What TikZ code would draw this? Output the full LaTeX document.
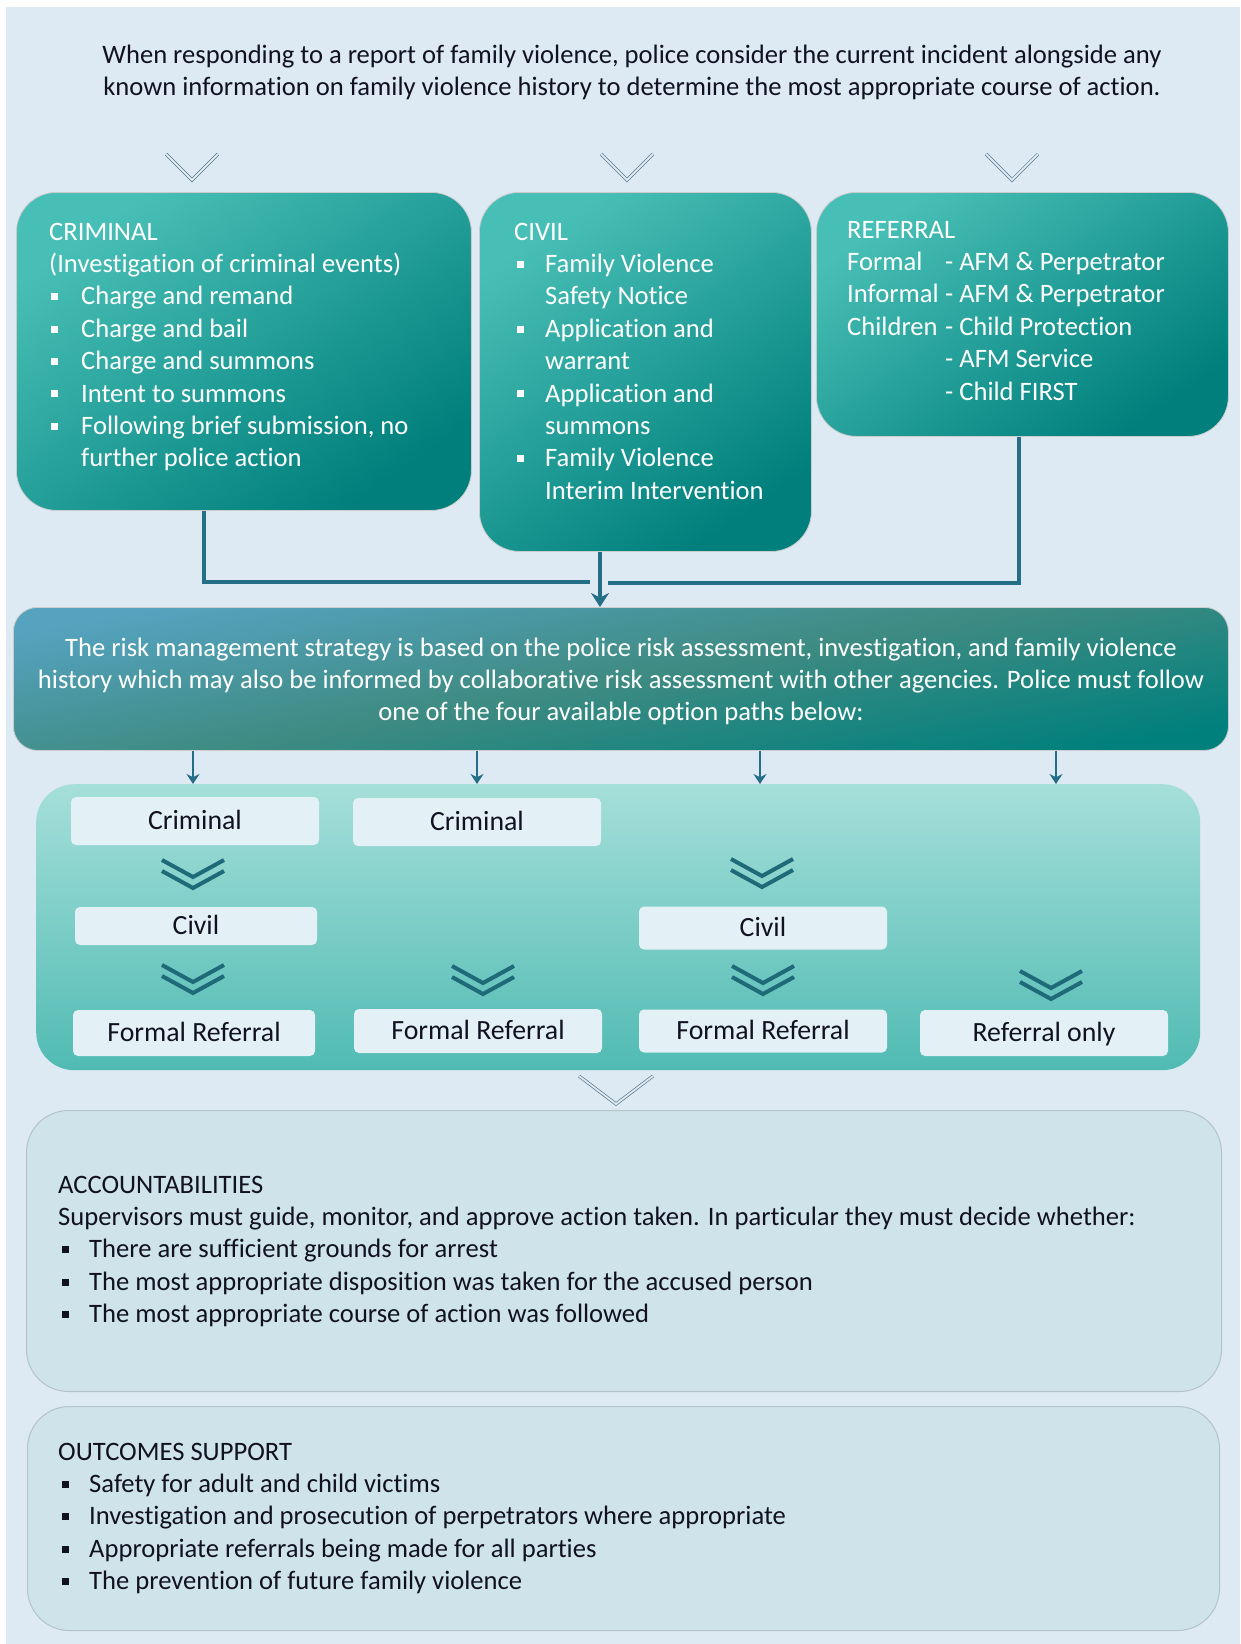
\documentclass[tikz,border=0pt]{standalone}
\usepackage{fontspec}
\setmainfont{Carlito}[Ligatures=NoCommon]
\usetikzlibrary{arrows.meta}
\definecolor{bgblue}{HTML}{DDEAF4}
\definecolor{tealL}{HTML}{48BFB6}
\definecolor{tealD}{HTML}{007F7C}
\definecolor{riskL}{HTML}{55A3BF}
\definecolor{riskM}{HTML}{3E8B82}
\definecolor{riskD}{HTML}{00807D}
\definecolor{optL}{HTML}{A6DFDA}
\definecolor{optD}{HTML}{50BBB3}
\definecolor{optfill}{HTML}{E3F1F6}
\definecolor{linkcol}{HTML}{256E87}
\definecolor{chevcol}{HTML}{1F6A78}
\definecolor{greych}{HTML}{5F7888}
\definecolor{lowfill}{HTML}{CFE4EA}
\definecolor{lowedge}{HTML}{B4C2CA}
\definecolor{inkcol}{HTML}{111122}
\newcommand{\sqbul}{\rule[0.17em]{0.27em}{0.27em}}

\begin{document}
\begin{tikzpicture}[x=1pt,y=-1pt,
  txt/.style={inner sep=0pt, font=\fontsize{26.6}{32.4}\selectfont},
  wtxt/.style={txt, text=white},
  dtxt/.style={txt, text=inkcol},
  tealbox/.style={draw=gray!40, line width=0.8pt, rounded corners=40pt, top color=tealL, bottom color=tealD, shading angle=35, anchor=north west, inner sep=0pt},
  riskbox/.style={draw=gray!40, line width=0.8pt, rounded corners=24pt, top color=riskL, bottom color=riskD, middle color=riskM, shading angle=10, anchor=north west, inner sep=0pt},
  optarea/.style={rounded corners=38pt, top color=optL, bottom color=optD, anchor=north west, inner sep=0pt},
  optbox/.style={fill=optfill, rounded corners=5pt, minimum width=248pt, text height=16pt, text depth=0pt, font=\fontsize{27.8}{30}\selectfont, text=inkcol},
  lowbox/.style={fill=lowfill, draw=lowedge, line width=1pt, rounded corners=42pt, anchor=north west, inner sep=0pt},
  link/.style={draw=linkcol, line width=4pt},
  thinarr/.style={draw=linkcol, line width=2pt, -{Stealth[length=10pt,width=13pt]}},
  dchev/.style={draw=chevcol, line width=4pt},
  gchev/.style={draw=greych, line width=0.7pt, double=bgblue, double distance=1.8pt}
]
\useasboundingbox (0,0) rectangle (1240,1644);
\fill[white] (0,0) rectangle (1240,1644);
\fill[bgblue] (6,7) rectangle (1240,1644);

% intro
\node[dtxt, anchor=base] (intro) at (632,63) {\begin{tabular}[t]{@{}c@{}}
When responding to a report of family violence, police consider the current incident alongside any\\
known information on family violence history to determine the most appropriate course of action.
\end{tabular}};

\foreach \cx in {192,627,1012}
  \draw[gchev] (\cx-26,154) -- (\cx,180) -- (\cx+26,154);

% three first boxes
\node[tealbox, minimum width=455pt, minimum height=318pt] (crim) at (16,192) {};
\node[tealbox, minimum width=332pt, minimum height=359pt] (civ) at (479,192) {};
\node[tealbox, minimum width=412pt, minimum height=244pt] (refl) at (816,192) {};

\node[wtxt, anchor=base west] (crimtxt) at (49,240) {\begin{tabular}[t]{@{}p{32pt}@{}l@{}}
\multicolumn{2}{@{}l@{}}{CRIMINAL}\\
\multicolumn{2}{@{}l@{}}{(Investigation of criminal events)}\\
\hspace*{2pt}\sqbul & Charge and remand\\
\hspace*{2pt}\sqbul & Charge and bail\\
\hspace*{2pt}\sqbul & Charge and summons\\
\hspace*{2pt}\sqbul & Intent to summons\\
\hspace*{2pt}\sqbul & Following brief submission, no\\
 & further police action
\end{tabular}};

\node[wtxt, anchor=base west] (civtxt) at (514,240) {\begin{tabular}[t]{@{}p{31pt}@{}l@{}}
\multicolumn{2}{@{}l@{}}{CIVIL}\\
\hspace*{3pt}\sqbul & Family Violence\\
 & Safety Notice\\
\hspace*{3pt}\sqbul & Application and\\
 & warrant\\
\hspace*{3pt}\sqbul & Application and\\
 & summons\\
\hspace*{3pt}\sqbul & Family Violence\\
 & Interim Intervention
\end{tabular}};

\node[wtxt, anchor=base west] (refltxt) at (847,238) {\begin{tabular}[t]{@{}p{98pt}@{}l@{}}
\multicolumn{2}{@{}l@{}}{REFERRAL}\\
Formal & - AFM \& Perpetrator\\
Informal & - AFM \& Perpetrator\\
Children & - Child Protection\\
 & - AFM Service\\
 & - Child FIRST
\end{tabular}};

% risk strategy
\node[riskbox, minimum width=1215pt, minimum height=143pt] (risk) at (13,607) {};
\node[wtxt, anchor=base] (risktxt) at (621,656) {\begin{tabular}[t]{@{}c@{}}
The risk management strategy is based on the police risk assessment, investigation, and family violence\\
history which may also be informed by collaborative risk assessment with other agencies. Police must follow\\
one of the four available option paths below:
\end{tabular}};

\coordinate (cjl) at (590,582);
\coordinate (cjr) at (608,583);
\draw[link] (204,0 |- crim.south) |- (cjl);
\draw[link] (1019,0 |- refl.south) |- (cjr);
\draw[link, -{Stealth[length=14pt,width=18pt]}] (600,0 |- civ.south) -- (600,0 |- risk.north);

% option paths
\node[optarea, minimum width=1164pt, minimum height=286pt] (opts) at (36,784) {};
\foreach \ax in {193,477,760,1056}
  \draw[thinarr] (\ax,0 |- risk.south) -- (\ax,0 |- opts.north);

\node[optbox, minimum height=48pt] (crimA) at (195,821) {Criminal};
\node[optbox, minimum height=48pt] (crimB) at (477,822) {Criminal};
\node[optbox, minimum width=242pt, minimum height=38pt] (civA) at (196,926) {Civil};
\node[optbox, minimum height=43pt] (civC) at (763,928) {Civil};
\node[optbox, minimum width=242pt, minimum height=46pt] (frA) at (194,1033) {Formal Referral};
\node[optbox, minimum height=44pt] (frB) at (478,1031) {Formal Referral};
\node[optbox, minimum height=43pt] (frC) at (763,1031) {Formal Referral};
\node[optbox, minimum height=46pt] (refD) at (1044,1033) {Referral only};

\foreach \cx/\cy in {193/877,762/876,193/982,483/983,763/983,1051/988}{
  \draw[dchev] (\cx-31,\cy-17) -- (\cx,\cy) -- (\cx+31,\cy-17);
  \draw[dchev] (\cx-31,\cy-6) -- (\cx,\cy+11) -- (\cx+31,\cy-6);
}
\draw[gchev] (579,1076) -- (616,1104) -- (653,1076);

% accountabilities and outcomes
\node[lowbox, minimum width=1195pt, minimum height=281pt] (acc) at (26,1110) {};
\node[dtxt, anchor=base west] (acctxt) at (58,1193) {\begin{tabular}[t]{@{}p{31pt}@{}l@{}}
\multicolumn{2}{@{}l@{}}{ACCOUNTABILITIES}\\
\multicolumn{2}{@{}l@{}}{Supervisors must guide, monitor, and approve action taken. In particular they must decide whether:}\\
\hspace*{4pt}\sqbul & There are sufficient grounds for arrest\\
\hspace*{4pt}\sqbul & The most appropriate disposition was taken for the accused person\\
\hspace*{4pt}\sqbul & The most appropriate course of action was followed
\end{tabular}};

\node[lowbox, minimum width=1192pt, minimum height=224pt] (outc) at (27,1406) {};
\node[dtxt, anchor=base west] (outctxt) at (58,1460) {\begin{tabular}[t]{@{}p{31pt}@{}l@{}}
\multicolumn{2}{@{}l@{}}{OUTCOMES SUPPORT}\\
\hspace*{4pt}\sqbul & Safety for adult and child victims\\
\hspace*{4pt}\sqbul & Investigation and prosecution of perpetrators where appropriate\\
\hspace*{4pt}\sqbul & Appropriate referrals being made for all parties\\
\hspace*{4pt}\sqbul & The prevention of future family violence
\end{tabular}};
\end{tikzpicture}
\end{document}
